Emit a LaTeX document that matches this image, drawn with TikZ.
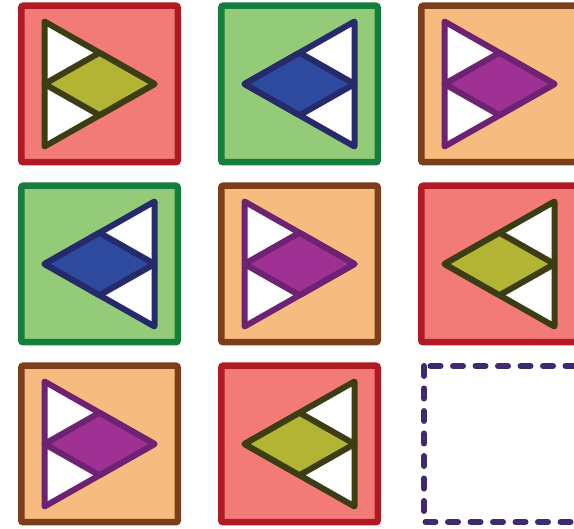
\documentclass[tikz,border=0pt]{standalone}
\usepackage{xcolor}
\definecolor{redfill}{HTML}{F27B78}
\definecolor{redline}{HTML}{B01A22}
\definecolor{greenfill}{HTML}{94CB79}
\definecolor{greenline}{HTML}{167E3C}
\definecolor{orangefill}{HTML}{F6BB7E}
\definecolor{orangeline}{HTML}{7C3E1B}
\definecolor{olivefill}{HTML}{B3B334}
\definecolor{oliveline}{HTML}{3C3D14}
\definecolor{bluefill}{HTML}{2E4A9E}
\definecolor{blueline}{HTML}{252A6B}
\definecolor{purplefill}{HTML}{9E3193}
\definecolor{purpleline}{HTML}{6D2272}
\definecolor{slotline}{HTML}{402A6F}
\tikzset{
  tile/.style={line width=6.5pt, rounded corners=2pt},
  tileRed/.style={tile, draw=redline, fill=redfill},
  tileGreen/.style={tile, draw=greenline, fill=greenfill},
  tileOrange/.style={tile, draw=orangeline, fill=orangefill},
  kite/.style={line width=6pt, line join=round},
  kiteRed/.style={kite, draw=oliveline, fill=olivefill},
  kiteGreen/.style={kite, draw=blueline, fill=bluefill},
  kiteOrange/.style={kite, draw=purpleline, fill=purplefill},
  slot/.style={line width=6pt, draw=slotline, line cap=round,
    dash pattern=on 10pt off 12.5pt},
}
\begin{document}
\begin{tikzpicture}[x=1pt, y=-1pt]
\clip (0,0) rectangle (574,529);
% tiles: column/row/colour/direction
\foreach \col/\row/\kind/\dir in {0/0/Red/1, 1/0/Green/-1, 2/0/Orange/1,
    0/1/Green/-1, 1/1/Orange/1, 2/1/Red/-1, 0/2/Orange/1, 1/2/Red/-1}{
  \begin{scope}[shift={(99.5+200*\col, 84+180*\row)}]
    \draw[tile\kind] (-78.25,-78.25) rectangle (78.25,78.25);
    \begin{scope}[xscale=\dir]
      \filldraw[kite\kind, fill=white] (-55,-62.5) -- (55,0) -- (-55,62.5) -- cycle;
      \filldraw[kite\kind] (-55,0) -- (0,-31.25) -- (55,0) -- (0,31.25) -- cycle;
    \end{scope}
  \end{scope}
}
% empty slot
\draw[slot] (424,366) rectangle (580,522);
\end{tikzpicture}
\end{document}
